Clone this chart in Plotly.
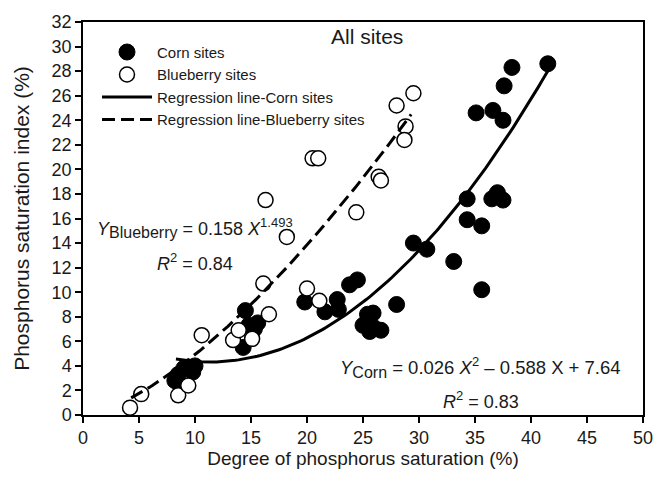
import numpy as np
import plotly.graph_objects as go

# Corn sites (filled)
corn_x = [8.2, 8.5, 8.7, 9.0, 9.5, 10.0, 9.8,
          14.3, 14.5, 14.8, 15.6, 15.3,
          19.8, 21.6, 22.7, 22.8, 23.8, 24.5,
          25.0, 25.4, 25.9, 25.6, 26.6, 26.0,
          28.0, 29.5, 30.7, 33.1, 35.6,
          34.3, 34.3, 35.6, 36.5, 37.0, 37.5,
          35.1, 36.6, 37.5, 37.6, 38.3, 41.5]
corn_y = [2.8, 3.3, 2.4, 3.8, 3.9, 4.0, 3.5,
          5.5, 8.5, 7.3, 7.5, 7.0,
          9.2, 8.4, 9.4, 8.6, 10.6, 11.0,
          7.3, 8.2, 8.3, 6.8, 6.9, 7.1,
          9.0, 14.0, 13.5, 12.5, 10.2,
          17.6, 15.9, 15.4, 17.6, 18.1, 17.5,
          24.6, 24.8, 24.0, 26.8, 28.3, 28.6]

# Blueberry sites (open)
blue_x = [4.2, 5.2, 8.5, 9.4, 10.6, 13.4, 13.9, 15.1, 16.6, 16.1, 16.3, 18.2,
          20.0, 21.1, 20.5, 21.0, 24.4, 26.4, 26.6, 28.0, 28.8, 28.7, 29.5]
blue_y = [0.6, 1.7, 1.6, 2.4, 6.5, 6.1, 6.9, 6.2, 8.2, 10.7, 17.5, 14.5,
          10.3, 9.3, 20.9, 20.9, 16.5, 19.4, 19.1, 25.2, 23.5, 22.4, 26.2]

# Regression coefficients (as printed on the chart) and drawn x-ranges
corn_coef = [0.026, -0.588, 7.64]
corn_range = [8.3, 41.5]
blue_coef = [0.158, 1.493]
blue_range = [4.3, 29.3]

xc = np.linspace(corn_range[0], corn_range[1], 120)
yc = corn_coef[0] * xc**2 + corn_coef[1] * xc + corn_coef[2]
xb = np.linspace(blue_range[0], blue_range[1], 120)
yb = blue_coef[0] * xb**blue_coef[1]

FONT = "Liberation Sans, Arial, sans-serif"
TXT = "#1a1a1a"

fig = go.Figure()
fig.add_trace(go.Scatter(x=corn_x, y=corn_y, mode="markers", name="Corn sites",
                         marker=dict(size=16, color="black", line=dict(color="black", width=1))))
fig.add_trace(go.Scatter(x=blue_x, y=blue_y, mode="markers", name="Blueberry sites",
                         marker=dict(size=15, color="white", line=dict(color="black", width=1.5))))
fig.add_trace(go.Scatter(x=xc, y=yc, mode="lines", name="Regression line-Corn sites",
                         line=dict(color="black", width=3)))
fig.add_trace(go.Scatter(x=xb, y=yb, mode="lines", name="Regression line-Blueberry sites",
                         line=dict(color="black", width=3, dash="13px,6px")))

axis_common = dict(showline=True, linecolor="black", linewidth=1.5, mirror=True,
                   ticks="outside", ticklen=6, tickwidth=1.5, tickcolor="black",
                   showgrid=False, zeroline=False,
                   tickfont=dict(family=FONT, size=18, color=TXT))

fig.update_xaxes(range=[0, 50], tickvals=list(range(0, 51, 5)),
                 title_text="Degree of phosphorus saturation (%)", title_standoff=4,
                 title_font=dict(family=FONT, size=19, color=TXT),
                 **axis_common)
fig.update_yaxes(range=[0, 32], tickvals=list(range(0, 33, 2)),
                 title_text="Phosphorus saturation index (%)", title_standoff=16,
                 title_font=dict(family=FONT, size=21, color=TXT),
                 **axis_common)

SUB = '<sub><span style="font-size:16px">{}</span></sub>'
SUP = '<sup><span style="font-size:13px">{}</span></sup>'


def ann(x, y, text, size=18):
    fig.add_annotation(x=x, y=y, xref="paper", yref="paper", text=text,
                       xanchor="center", yanchor="middle", showarrow=False,
                       font=dict(family=FONT, size=size, color=TXT))


ann(0.507, 0.963, "All sites", 21)
ann(0.2, 0.475, "<i>Y</i>" + SUB.format("Blueberry") + " = 0.158 <i>X</i>" + SUP.format("1.493"))
ann(0.2, 0.39, "<i>R</i>" + SUP.format("2") + " = 0.84")
ann(0.71, 0.122, "<i>Y</i>" + SUB.format("Corn") + " = 0.026 <i>X</i>" + SUP.format("2")
    + " \u2013 0.588 X + 7.64", 18.5)
ann(0.71, 0.037, "<i>R</i>" + SUP.format("2") + " = 0.83")

fig.update_layout(
    width=666, height=478,
    margin=dict(l=83, r=23, t=16, b=58),
    paper_bgcolor="white", plot_bgcolor="white",
    showlegend=True,
    legend=dict(x=0.025, y=0.965, xanchor="left", yanchor="top",
                bgcolor="rgba(0,0,0,0)", borderwidth=0,
                font=dict(family=FONT, size=15, color=TXT),
                tracegroupgap=0, itemwidth=50),
)

fig.write_html("out.html")
